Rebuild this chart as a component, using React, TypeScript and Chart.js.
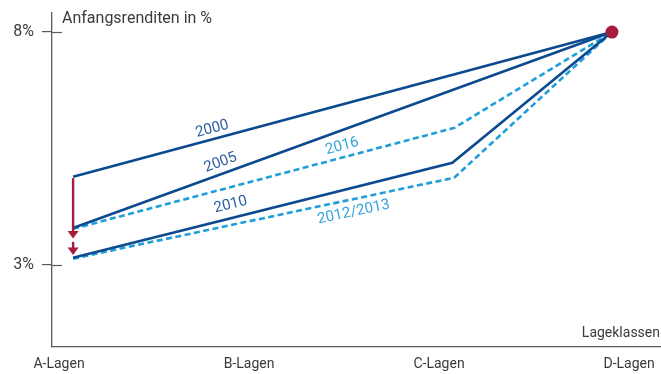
import React, { useEffect, useRef } from 'react';
import { Chart, registerables } from 'chart.js';

Chart.register(...registerables);

// ---- data ----
const categories = ['A-Lagen', 'B-Lagen', 'C-Lagen', 'D-Lagen'];
const yTickValues = [3, 8];
const yAxisTitle = 'Anfangsrenditen in %';
const xAxisTitle = 'Lageklassen';

const seriesNames = ['2000', '2005', '2016', '2010', '2012/2013'];
// x = position on the Lageklassen axis (0 = A, 3 = D)
const x2000 = [0.074, 2.91];
const y2000 = [4.89, 8];
const x2005 = [0.074, 2.91];
const y2005 = [3.79, 8];
const x2016 = [0.074, 2.08, 2.91];
const y2016 = [3.77, 5.94, 8];
const x2010 = [0.074, 2.07, 2.91];
const y2010 = [3.15, 5.19, 8];
const x2012 = [0.074, 2.08, 2.91];
const y2012 = [3.13, 4.87, 8];

const peakX = [2.91];
const peakY = [8];

// series label placement: x position along the line, perpendicular offset (px)
const labelX = [0.82, 0.87, 1.505, 0.92, 1.537];
const labelOffset = [-10, -11, -11, -13, 13];

// red arrow at A-Lagen: [from, to] value pairs
const arrowX = 0.074;
const arrowSegments = [
  [4.86, 3.56],
  [3.49, 3.21],
];

const DARK = '#0b4a8f';
const LIGHT = '#1f9ed9';
const DARK_TEXT = '#2d5f9f';
const LIGHT_TEXT = '#35a5dc';
const RED = '#a61c3c';
const AXIS = '#5a5a5a';
const TEXT = '#3a3a3a';
const FONT = 'Roboto, "Liberation Sans", sans-serif';

const zip = (xs: number[], ys: number[]) => xs.map((x, i) => ({ x, y: ys[i] }));

const noPad = (s: any) => {
  s.paddingTop = 0;
  s.paddingBottom = 0;
  s.paddingLeft = 0;
  s.paddingRight = 0;
};

const decorPlugin = {
  id: 'decor',
  afterDatasetsDraw(chart: any) {
    const { ctx, chartArea, scales } = chart;
    const xs = scales.x;
    const ys = scales.y;
    ctx.save();

    // inner halves of the y tick marks
    ctx.strokeStyle = AXIS;
    ctx.lineWidth = 1.2;
    yTickValues.forEach((v) => {
      const py = Math.round(ys.getPixelForValue(v)) + 0.5;
      ctx.beginPath();
      ctx.moveTo(chartArea.left, py);
      ctx.lineTo(chartArea.left + 10, py);
      ctx.stroke();
    });

    // axis titles
    ctx.fillStyle = TEXT;
    ctx.font = `16px ${FONT}`;
    ctx.textBaseline = 'middle';
    ctx.textAlign = 'left';
    ctx.fillText(yAxisTitle, chartArea.left + 10, chartArea.top + 6);
    ctx.font = `14px ${FONT}`;
    ctx.textAlign = 'right';
    ctx.fillText(xAxisTitle, chartArea.right - 1, chartArea.bottom - 14);

    // red arrow
    ctx.strokeStyle = RED;
    ctx.fillStyle = RED;
    ctx.lineWidth = 2.4;
    const ax = xs.getPixelForValue(arrowX);
    arrowSegments.forEach(([from, to]) => {
      const p0 = ys.getPixelForValue(from);
      const p1 = ys.getPixelForValue(to);
      ctx.beginPath();
      ctx.moveTo(ax, p0);
      ctx.lineTo(ax, p1 - 5);
      ctx.stroke();
      ctx.beginPath();
      ctx.moveTo(ax - 5.5, p1 - 7.5);
      ctx.lineTo(ax + 5.5, p1 - 7.5);
      ctx.lineTo(ax, p1);
      ctx.closePath();
      ctx.fill();
    });

    // series labels along lines
    chart.data.datasets.forEach((ds: any) => {
      const si = seriesNames.indexOf(ds.label);
      if (si < 0) return;
      const pts = ds.data;
      const lx = labelX[si];
      let k = 0;
      while (k < pts.length - 2 && pts[k + 1].x < lx) k++;
      const a = pts[k];
      const b = pts[k + 1];
      const ax1 = xs.getPixelForValue(a.x);
      const ay1 = ys.getPixelForValue(a.y);
      const bx1 = xs.getPixelForValue(b.x);
      const by1 = ys.getPixelForValue(b.y);
      const t = (lx - a.x) / (b.x - a.x);
      const px = ax1 + (bx1 - ax1) * t;
      const py = ay1 + (by1 - ay1) * t;
      const ang = Math.atan2(by1 - ay1, bx1 - ax1);
      ctx.save();
      ctx.translate(px, py);
      ctx.rotate(ang);
      ctx.font = `15px ${FONT}`;
      ctx.textAlign = 'center';
      ctx.textBaseline = 'middle';
      ctx.fillStyle = ds.borderDash && ds.borderDash.length ? LIGHT_TEXT : DARK_TEXT;
      ctx.fillText(ds.label, 0, labelOffset[si]);
      ctx.restore();
    });

    ctx.restore();
  },
};

export default function App() {
  const ref = useRef<HTMLCanvasElement | null>(null);
  useEffect(() => {
    const canvas = ref.current;
    if (!canvas) return;
    const lineDs = (label: string, xs: number[], ys: number[], color: string, dashed: boolean) => ({
      label,
      data: zip(xs, ys),
      borderColor: color,
      backgroundColor: color,
      borderWidth: 2.6,
      borderDash: dashed ? [6, 3.5] : [],
      pointRadius: 0,
      fill: false,
      tension: 0,
    });
    const chart = new Chart(canvas, {
      type: 'line',
      data: {
        datasets: [
          {
            label: 'peak',
            data: zip(peakX, peakY),
            borderColor: RED,
            backgroundColor: RED,
            pointRadius: 6.5,
            pointBorderWidth: 0,
            showLine: false,
          } as any,
          lineDs(seriesNames[0], x2000, y2000, DARK, false),
          lineDs(seriesNames[1], x2005, y2005, DARK, false),
          lineDs(seriesNames[3], x2010, y2010, DARK, false),
          lineDs(seriesNames[2], x2016, y2016, LIGHT, true),
          lineDs(seriesNames[4], x2012, y2012, LIGHT, true),
        ],
      },
      options: {
        responsive: false,
        animation: false,
        layout: { autoPadding: false, padding: { top: 13, right: 0, left: 0, bottom: 0 } },
        plugins: { legend: { display: false }, tooltip: { enabled: false } },
        events: [],
        scales: {
          x: {
            type: 'linear',
            min: -0.037,
            max: 3.168,
            afterFit: (s: any) => {
              s.height = 27;
              noPad(s);
            },
            afterBuildTicks: (s: any) => {
              s.ticks = categories.map((_, i) => ({ value: i }));
            },
            ticks: {
              callback: (v: any) => categories[v as number] ?? '',
              color: TEXT,
              font: { family: FONT, size: 14 },
              padding: 9,
              maxRotation: 0,
              autoSkip: false,
            },
            grid: { display: true, drawOnChartArea: false, drawTicks: false, color: 'rgba(0,0,0,0)' },
            border: { display: true, color: AXIS, width: 1.3 },
          },
          y: {
            min: 1.23,
            max: 8.41,
            afterFit: (s: any) => {
              s.width = 52;
              noPad(s);
            },
            afterBuildTicks: (s: any) => {
              s.ticks = yTickValues.map((v) => ({ value: v }));
            },
            ticks: {
              callback: (v: any) => `${v}%`,
              color: TEXT,
              font: { family: FONT, size: 16 },
              padding: 8,
            },
            grid: { display: true, drawOnChartArea: false, drawTicks: true, tickLength: 10, color: AXIS, lineWidth: 1.2 },
            border: { display: true, color: AXIS, width: 1.3 },
          },
        },
      },
      plugins: [decorPlugin],
    });
    return () => chart.destroy();
  }, []);
  return (
    <div style={{ position: 'fixed', left: 0, top: 0, width: 661, height: 374, background: '#fff' }}>
      <canvas ref={ref} width={661} height={374} style={{ display: 'block', width: 661, height: 374 }} />
    </div>
  );
}
